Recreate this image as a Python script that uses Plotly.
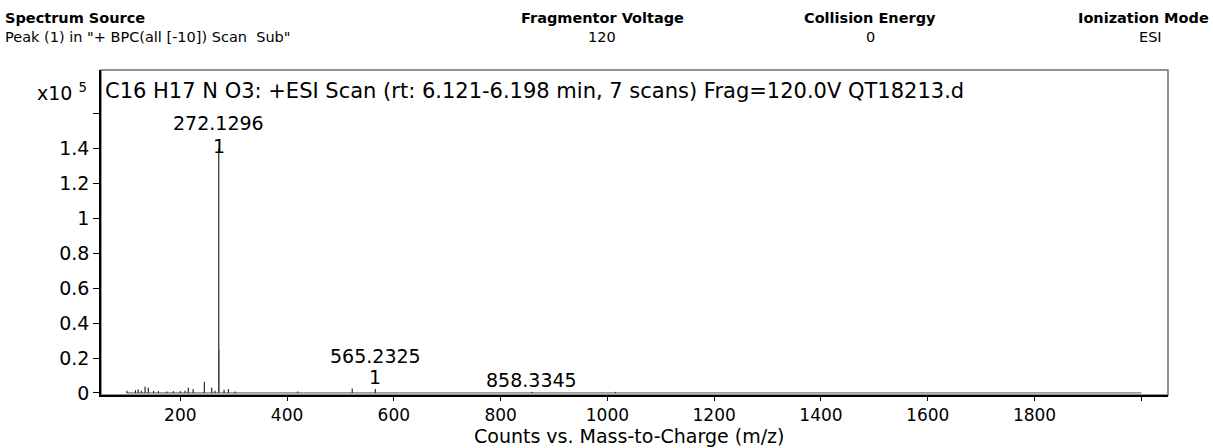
import plotly.graph_objects as go

# ---------------- data ----------------
# centroid peaks (m/z, intensity in units of 1e5 counts) drawn in black
peak_mz = [100.0, 116.0, 121.0, 127.0, 134.0, 140.0, 150.0, 159.0, 175.0, 187.0,
           200.0, 209.0, 215.0, 224.0, 245.0, 259.0, 265.0, 272.1296, 282.0, 290.0,
           303.0, 420.0, 522.0, 565.2325, 858.3345, 1015.0]
peak_int = [0.012, 0.015, 0.020, 0.012, 0.036, 0.030, 0.012, 0.010, 0.008, 0.010,
            0.010, 0.012, 0.030, 0.022, 0.063, 0.030, 0.012, 1.40, 0.018, 0.022,
            0.008, 0.008, 0.025, 0.022, 0.006, 0.006]

# weak / isotope peaks drawn in light grey
grey_mz = [273.13, 325.0, 345.0, 390.0, 430.0, 460.0, 490.0, 505.0, 610.0, 625.0]
grey_int = [0.25, 0.006, 0.005, 0.005, 0.005, 0.005, 0.005, 0.005, 0.005, 0.005]

# acquired spectrum range (baseline)
scan_range = [100.0, 2000.0]

# labelled peaks
label_mz = [272.1296, 565.2325, 858.3345]
label_text = ["272.1296", "565.2325", "858.3345"]
label_charge = ["1", "1", ""]

x_ticks = [200, 400, 600, 800, 1000, 1200, 1400, 1600, 1800, 2000]
x_tick_text = ["200", "400", "600", "800", "1000", "1200", "1400", "1600", "1800", ""]
y_ticks = [0, 0.2, 0.4, 0.6, 0.8, 1.0, 1.2, 1.4, 1.6]
y_tick_text = ["0", "0.2", "0.4", "0.6", "0.8", "1", "1.2", "1.4", ""]

header_titles = ["Spectrum Source", "Fragmentor Voltage", "Collision Energy", "Ionization Mode"]
header_values = ['Peak (1) in "+ BPC(all [-10]) Scan  Sub"', "120", "0", "ESI"]

chart_title = "C16 H17 N O3: +ESI Scan (rt: 6.121-6.198 min, 7 scans) Frag=120.0V QT18213.d"
x_title = "Counts vs. Mass-to-Charge (m/z)"

# ---------------- layout geometry ----------------
W, H = 1213, 448
L, R, T, B = 101, 1168, 70, 395


def px(x):  # screen pixel -> paper
    return (x - L) / (R - L)


def py(y):
    return (B - y) / (B - T)


def sticks(xs, ys):
    X, Y = [], []
    for x, y in zip(xs, ys):
        X += [x, x, None]
        Y += [0, y, None]
    return X, Y


CH_FONT = "DejaVu Sans"
HD_FONT = "DejaVu Sans"
CH_SIZE = 19

fig = go.Figure()

fig.add_trace(go.Scatter(x=scan_range, y=[0, 0], mode="lines",
                         line=dict(color="#555555", width=1), hoverinfo="skip"))
gx, gy = sticks(grey_mz, grey_int)
fig.add_trace(go.Scatter(x=gx, y=gy, mode="lines",
                         line=dict(color="#b0b0b0", width=1), hoverinfo="skip"))
bx, by = sticks(peak_mz, peak_int)
fig.add_trace(go.Scatter(x=bx, y=by, mode="lines",
                         line=dict(color="black", width=1), hoverinfo="skip"))

annotations = []
lab_int = [peak_int[peak_mz.index(m)] for m in label_mz]
lab_shift = [(26, 3), (33, 12), (12, None)]
for m, h, t, c, (s1, s2) in zip(label_mz, lab_int, label_text, label_charge, lab_shift):
    annotations.append(dict(x=m, y=h, xref="x", yref="y", text=t, showarrow=False,
                            yanchor="middle", yshift=s1,
                            font=dict(family=CH_FONT, size=CH_SIZE, color="black")))
    if c:
        annotations.append(dict(x=m, y=h, xref="x", yref="y", text=c, showarrow=False,
                                yanchor="middle", yshift=s2,
                                font=dict(family=CH_FONT, size=CH_SIZE, color="black")))

annotations.append(dict(x=px(103), y=py(91), xref="paper", yref="paper", text=chart_title,
                        showarrow=False, xanchor="left", yanchor="middle",
                        font=dict(family=CH_FONT, size=21, color="black")))
annotations.append(dict(x=px(89), y=py(92), xref="paper", yref="paper",
                        text="x10 <sup>5</sup>", showarrow=False, xanchor="right",
                        yanchor="middle", font=dict(family=CH_FONT, size=CH_SIZE, color="black")))
# x-axis title
annotations.append(dict(x=px(629), y=py(436), xref="paper", yref="paper", text=x_title,
                        showarrow=False, xanchor="center", yanchor="middle", borderpad=0,
                        font=dict(family=CH_FONT, size=19, color="black")))

hdr_x = [3, 602, 870, 1211]
hdr_anchor = ["left", "center", "center", "right"]
val_x = [3, 602, 870, 1150]
val_anchor = ["left", "center", "center", "center"]
for ht, hv, hx, ha, vx, va in zip(header_titles, header_values, hdr_x, hdr_anchor, val_x, val_anchor):
    annotations.append(dict(x=px(hx), y=py(18), xref="paper", yref="paper",
                            text="<b>" + ht + "</b>", showarrow=False, xanchor=ha,
                            yanchor="middle", font=dict(family=HD_FONT, size=14.5, color="black")))
    annotations.append(dict(x=px(vx), y=py(37), xref="paper", yref="paper",
                            text=hv, showarrow=False, xanchor=va,
                            yanchor="middle", font=dict(family=HD_FONT, size=14.5, color="black")))

fig.update_layout(
    width=W, height=H,
    margin=dict(l=L, r=W - R, t=T, b=H - B, pad=0, autoexpand=False),
    paper_bgcolor="white", plot_bgcolor="white",
    showlegend=False,
    annotations=annotations,
    shapes=[dict(type="rect", xref="paper", yref="paper", x0=0, y0=0, x1=1, y1=1,
                 line=dict(color="#707070", width=1.5), layer="below")],
    xaxis=dict(range=[51.5, 2050], tickvals=x_ticks, ticktext=x_tick_text,
               automargin=False,
               showgrid=False, zeroline=False, showline=True, linecolor="black",
               linewidth=2, ticks="outside", ticklen=4, tickcolor="black",
               tickfont=dict(family=CH_FONT, size=17, color="black")),
    yaxis=dict(range=[-0.012, 1.85], tickvals=y_ticks, ticktext=y_tick_text,
               automargin=False,
               showgrid=False, zeroline=False, showline=True, linecolor="black",
               linewidth=1.5, ticks="outside", ticklen=6, tickcolor="black",
               tickfont=dict(family=CH_FONT, size=CH_SIZE, color="black")),
)

fig.write_html("out.html", config={"displayModeBar": False},
               post_script="document.body.style.margin='0';")
